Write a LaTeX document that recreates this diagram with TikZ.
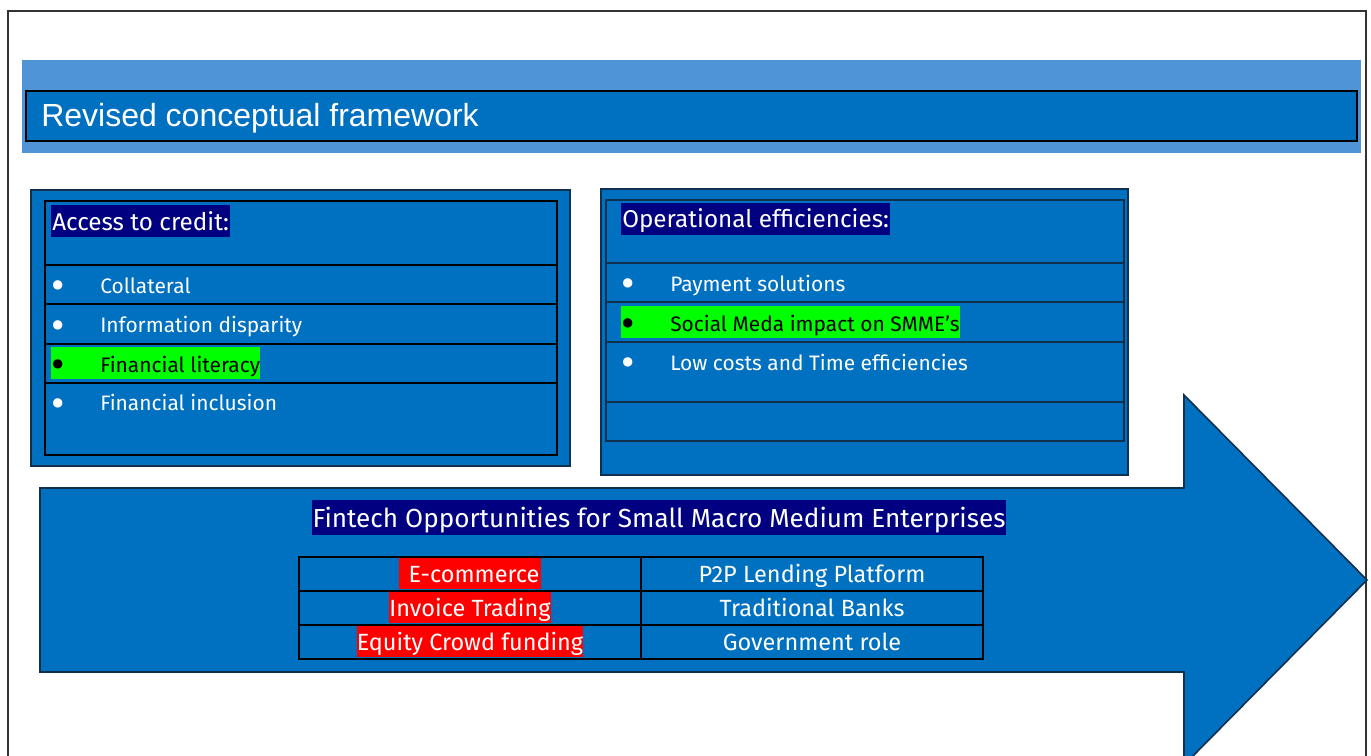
\documentclass[tikz,border=0pt]{standalone}
\usepackage{fontspec}
\setmainfont{Fira Sans}
\newfontfamily\arialfont{Liberation Sans}
\definecolor{boxblue}{HTML}{0070C0}
\definecolor{bandblue}{HTML}{5094D8}
\definecolor{navyhl}{HTML}{000080}
\definecolor{edgedark}{HTML}{10304E}
\definecolor{hlgreen}{HTML}{00FF00}
\definecolor{hlred}{HTML}{FF0000}
\begin{document}
\begin{tikzpicture}[x=0.75pt,y=-0.75pt,
  panel/.style={fill=boxblue, draw=edgedark, line width=1pt},
  grid/.style={draw=black, line width=1.1pt},
  heading/.style={anchor=base west, inner xsep=0.75pt, inner ysep=0pt, fill=navyhl, text=white,
    font=\fontsize{18.2}{20}\selectfont, text height=18.75pt, text depth=5.25pt},
  item/.style={anchor=base west, inner sep=0pt, text=white,
    font=\fontsize{15.7}{18}\selectfont, text height=18.75pt, text depth=5.25pt},
  marked/.style={fill=hlgreen, text=black},
  cell/.style={anchor=base, inner sep=0pt, text=white,
    font=\fontsize{17.6}{19}\selectfont, text height=18pt, text depth=5.25pt},
  redmark/.style={fill=hlred}
]
\useasboundingbox (0,0) rectangle (1371,756);
\fill[white] (0,0) rectangle (1371,756);

% page frame
\draw[line width=0.8pt, black!80] (8,756) -- (8,11) -- (1366,11) -- (1366,756);

% title band
\fill[bandblue] (22,60) rectangle (1361,153);
\draw[fill=boxblue, draw=black, line width=1.2pt] (26,91) rectangle (1357,141);
\node[anchor=base west, inner sep=0pt, text=white, font=\arialfont\fontsize{24}{28}\selectfont]
  (title) at (41,127) {Revised conceptual framework};

% bullet followed by a tab stop
\newcommand\bul{\makebox[36.75pt][l]{\raisebox{-5.1pt}[0pt][0pt]{\fontsize{31}{31}\selectfont\textbullet}}}

% access to credit panel
\draw[panel] (31,190) rectangle (570,466);
\draw[grid] (45,201) rectangle (557,455);
\foreach \yy in {265,304,344,383} \draw[grid] (45,\yy) -- (557,\yy);
\node[heading] (credit) at (51,230) {Access to credit:};
\node[item] (collateral) at (51,293) {\bul Collateral};
\node[item] (disparity) at (51,332.5) {\bul Information disparity};
\node[item, marked] (literacy) at (51,372) {\bul Financial literacy};
\node[item] (inclusion) at (51,410.5) {\bul Financial inclusion};

% operational efficiencies panel
\draw[panel] (601,189) rectangle (1128,475);
\draw[grid, draw=edgedark] (606,200) rectangle (1124,441);
\foreach \yy in {263,302,342,402} \draw[grid, draw=edgedark] (606,\yy) -- (1124,\yy);
\node[heading] (operational) at (621,228) {Operational efficiencies:};
\node[item] (payment) at (621,291) {\bul Payment solutions};
\node[item, marked] (social) at (621,331) {\bul Social Meda impact on SMME’s};
\node[item] (lowcost) at (621,370) {\bul Low costs and Time efficiencies};

% block arrow
\draw[fill=boxblue, draw=edgedark, line width=1.2pt]
  (40,488) -- (1184,488) -- (1184,395) -- (1367,580) -- (1184,765) -- (1184,672) -- (40,672) -- cycle;

\node[anchor=base, inner xsep=0.75pt, inner ysep=0pt, fill=navyhl, text=white,
  font=\fontsize{19.6}{22}\selectfont, text height=20.25pt, text depth=6pt]
  (fintech) at (659,527) {Fintech Opportunities for Small Macro Medium Enterprises};

% opportunities table
\draw[grid] (299,557) rectangle (983,659);
\draw[grid] (641,557) -- (641,659);
\foreach \yy in {591,625} \draw[grid] (299,\yy) -- (983,\yy);
\node[cell, redmark] (ecommerce) at (470,582) {\hspace*{7pt}E-commerce\hspace*{1pt}};
\node[cell, redmark] (invoice) at (470,616) {Invoice Trading};
\node[cell, redmark] (equity) at (470,650) {Equity Crowd funding};
\node[cell] (p2p) at (812,582) {P2P Lending Platform};
\node[cell] (banks) at (812,616) {Traditional Banks};
\node[cell] (government) at (812,650) {Government role};
\end{tikzpicture}
\end{document}
